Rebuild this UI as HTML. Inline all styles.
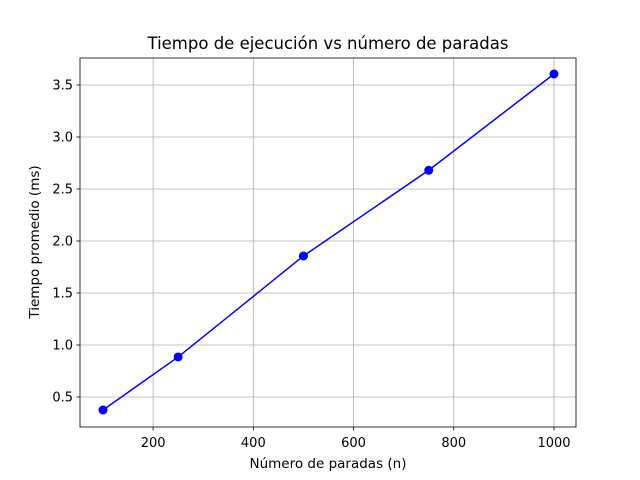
<!DOCTYPE html>
<html><head><meta charset="utf-8"><style>
body{margin:0;background:#fff}
svg{display:block;font-family:"DejaVu Sans","Liberation Sans",sans-serif}
</style></head><body>
<svg id="chart" width="640" height="480">
<rect width="640" height="480" fill="#fff"/>
<g id="grid"></g>
<g id="axes"></g>
<g id="series"></g>
<text x="328" y="49" text-anchor="middle" font-size="16.5">Tiempo de ejecución vs número de paradas</text>
<text x="328" y="468" text-anchor="middle" font-size="13.5">Número de paradas (n)</text>
<text transform="translate(39,242) rotate(-90)" text-anchor="middle" font-size="13.5">Tiempo promedio (ms)</text>
</svg>
<script>
const xValues=[100,250,500,750,1000];
const yValues=[0.375,0.885,1.856,2.68,3.606];
const xTicks=[200,400,600,800,1000];
const yTicks=[0.5,1.0,1.5,2.0,2.5,3.0,3.5];
const yTickLabels=["0.5","1.0","1.5","2.0","2.5","3.0","3.5"];
const L=80,R=576,T=58,B=427;
function sx(v){return 103+(v-100)*(554-103)/900;}
function sy(v){return 397-(v-0.5)*104;}
const NS="http://www.w3.org/2000/svg";
function mk(tag,attrs,parent){const e=document.createElementNS(NS,tag);for(const k in attrs)e.setAttribute(k,attrs[k]);parent.appendChild(e);return e;}
const grid=document.getElementById('grid'),axes=document.getElementById('axes'),series=document.getElementById('series');
xTicks.forEach(t=>{const x=sx(t);
 const g=mk('line',{x1:x,x2:x,y1:T,y2:B,stroke:'#b0b0b0','stroke-width':0.8},grid);
 
 mk('line',{x1:x,x2:x,y1:B,y2:B+3.5,stroke:'#000','stroke-width':0.8},axes);
 const tx=mk('text',{x:x,y:B+20,'text-anchor':'middle','font-size':'13'},axes);tx.textContent=t;
 
});
yTicks.forEach((t,i)=>{const y=sy(t);
 const g=mk('line',{x1:L,x2:R,y1:y,y2:y,stroke:'#b0b0b0','stroke-width':0.8},grid);
 
 mk('line',{x1:L-3.5,x2:L,y1:y,y2:y,stroke:'#000','stroke-width':0.8},axes);
 const tx=mk('text',{x:L-7,y:y+4.5,'text-anchor':'end','font-size':'13'},axes);tx.textContent=yTickLabels[i];
 
});
const fr=mk('rect',{x:L,y:T,width:R-L,height:B-T,fill:'none',stroke:'#000','stroke-width':0.8},axes);

const pts=xValues.map((v,i)=>sx(v)+','+sy(yValues[i])).join(' ');
const pl=mk('polyline',{points:pts,fill:'none',stroke:'#0000ff','stroke-width':1.5},series);

xValues.forEach((v,i)=>{const c=mk('circle',{cx:sx(v),cy:sy(yValues[i]),r:4.5,fill:'#0000ff'},series);
 });
</script>
</body></html>
